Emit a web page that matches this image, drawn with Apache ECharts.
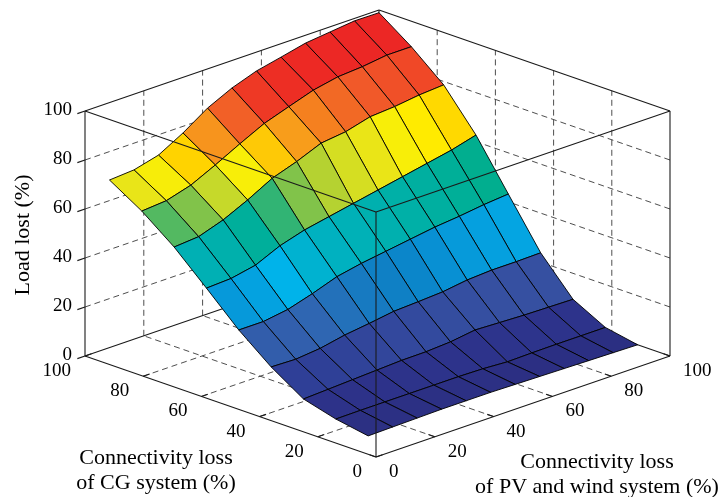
<!DOCTYPE html>
<html><head><meta charset="utf-8">
<script src="https://cdn.jsdelivr.net/npm/echarts@6/dist/echarts.min.js"></script>
<style>html,body{margin:0;padding:0;background:#fff}#chart{width:722px;height:497px}</style>
</head><body><div id="chart"></div>
<script>
// x: connectivity loss of PV and wind system (%)
const pvWindLoss = [8.33, 16.67, 25, 33.33, 41.67, 50, 58.33, 66.67, 75, 83.33, 91.67, 100];
// y: connectivity loss of CG system (%)
const cgLoss = [11.11, 22.22, 33.33, 44.44, 55.56, 66.67, 77.78, 88.89, 100];
// z: load lost (%), one row per CG loss level, across pvWindLoss
const loadLostCG11  = [0.6, 0.8, 1, 1.2, 1.2, 1.2, 1, 0.8, 0.6, 0.4, 0.2, 0];
const loadLostCG22  = [2.9, 3, 3, 3, 3, 3, 2.8, 2.2, 2.4, 2.5, 2.5, 2.5];
const loadLostCG33  = [6.5, 7, 7.5, 8, 8.5, 8.6, 9.2, 10.6, 10.2, 9.8, 9.6, 9.4];
const loadLostCG44  = [15, 14.7, 15.7, 17.7, 19, 20.5, 21, 21.6, 23, 23.6, 23.6, 23.8];
const loadLostCG56  = [25.5, 25.5, 27, 30, 33.5, 35.5, 37, 38.5, 40, 41, 42.3, 43.2];
const loadLostCG67  = [38, 38.5, 40.5, 45, 48, 50, 52, 54, 56, 58, 60, 62.7];
const loadLostCG78  = [50.2, 51, 54.4, 59.1, 64.5, 67.9, 72, 73.2, 75.9, 76.6, 77.9, 78.6];
const loadLostCG89  = [60.3, 61.1, 64, 68.8, 74, 78.9, 82.3, 85.6, 87.6, 88.3, 89.6, 89.6];
const loadLostCG100 = [68.4, 69.1, 71.7, 77.3, 84, 88.8, 92.3, 94.5, 96.8, 97.9, 99, 98.9];
// tick labels
const xTicks = [0, 20, 40, 60, 80, 100];
const yTicks = [0, 20, 40, 60, 80, 100];
const zTicks = [0, 20, 40, 60, 80, 100];

const loadLostRows = [loadLostCG11, loadLostCG22, loadLostCG33, loadLostCG44, loadLostCG56,
  loadLostCG67, loadLostCG78, loadLostCG89, loadLostCG100];

// orthographic projection of (x, y, z) onto the 2D helper axes
function project(p) { return [2.94 * p[0] - 2.91 * p[1], 1.01 * (p[0] + p[1]) + 2.45 * p[2]]; }

const colorStops = [
  [0, '#2b2e80'], [6, '#2d338b'], [11, '#2f3f97'], [17, '#3651a2'], [23, '#2f68b3'],
  [29, '#0c82c7'], [35, '#00b3ee'], [41, '#00b1c3'], [47, '#00b0a8'], [52, '#00ae90'],
  [55.5, '#4fb863'], [58.5, '#96c73f'], [62, '#cddb27'], [65, '#ece616'], [67.5, '#fff200'],
  [70.5, '#ffd200'], [73.5, '#fbb316'], [76, '#f7941d'], [79, '#f47920'], [82, '#f15a29'],
  [86, '#ee3524'], [90, '#ed2a24'], [100, '#eb2327']
];
function hexRgb(h) { return [1, 3, 5].map(k => parseInt(h.substr(k, 2), 16)); }
function colorFor(z) {
  if (z <= colorStops[0][0]) return colorStops[0][1];
  for (let k = 1; k < colorStops.length; k++) {
    if (z <= colorStops[k][0]) {
      const [z0, c0] = colorStops[k - 1], [z1, c1] = colorStops[k];
      const t = (z - z0) / (z1 - z0), a = hexRgb(c0), b = hexRgb(c1);
      return 'rgb(' + a.map((v, n) => Math.round(v + (b[n] - v) * t)).join(',') + ')';
    }
  }
  return colorStops[colorStops.length - 1][1];
}

// surface faces, far ones first
const faces = [];
for (let j = 0; j < cgLoss.length - 1; j++) {
  for (let i = 0; i < pvWindLoss.length - 1; i++) {
    const c = [[i, j], [i + 1, j], [i + 1, j + 1], [i, j + 1]]
      .map(([a, b]) => [pvWindLoss[a], cgLoss[b], loadLostRows[b][a]]);
    const mean = c.reduce((s, p) => s + p[2], 0) / 4;
    faces.push({ c: c, color: colorFor(mean), depth: i + j });
  }
}
faces.sort((a, b) => b.depth - a.depth);

// box and grid lines
const gridVals = [20, 40, 60, 80];
const backLines = [];
gridVals.forEach(t => {
  backLines.push({ a: [t, 0, 0], b: [t, 100, 0], dash: true });
  backLines.push({ a: [0, t, 0], b: [100, t, 0], dash: true });
  backLines.push({ a: [t, 100, 0], b: [t, 100, 100], dash: true });
  backLines.push({ a: [0, 100, t], b: [100, 100, t], dash: true });
  backLines.push({ a: [100, t, 0], b: [100, t, 100], dash: true });
  backLines.push({ a: [100, 0, t], b: [100, 100, t], dash: true });
});
[
  [[0, 100, 0], [100, 100, 0]], [[100, 0, 0], [100, 100, 0]], [[100, 100, 0], [100, 100, 100]],
  [[0, 100, 0], [0, 100, 100]], [[100, 0, 0], [100, 0, 100]],
  [[0, 100, 100], [100, 100, 100]], [[100, 0, 100], [100, 100, 100]]
].forEach(s => backLines.push({ a: s[0], b: s[1], dash: false }));
xTicks.forEach(t => backLines.push({ a: [t, 0, 0], b: [t, 2.2, 0], dash: false }));
yTicks.forEach(t => backLines.push({ a: [0, t, 0], b: [2.2, t, 0], dash: false }));
zTicks.forEach(t => backLines.push({ a: [0, 100, t], b: [-2.6, 100, t], dash: false }));

const frontLines = [
  [[0, 0, 0], [100, 0, 0]], [[0, 0, 0], [0, 100, 0]], [[0, 0, 0], [0, 0, 100]],
  [[0, 0, 100], [100, 0, 100]], [[0, 0, 100], [0, 100, 100]]
].map(s => ({ a: s[0], b: s[1], dash: false }));

const FONT = '"Liberation Serif", "Times New Roman", serif';
const labels = [];
xTicks.forEach(t => labels.push({ p: [t, 0, 0], dx: 13, dy: 15, text: String(t), align: 'left' }));
yTicks.forEach(t => labels.push({ p: [0, t, 0], dx: -14, dy: 15, text: String(t), align: 'right' }));
zTicks.forEach(t => labels.push({ p: [0, 100, t], dx: -13, dy: -1, text: String(t), align: 'right' }));

function lineSeries(list, z) {
  return {
    type: 'custom', coordinateSystem: 'cartesian2d', z: z, clip: false, silent: true,
    data: list.map(l => project(l.a)),
    renderItem: function (params, api) {
      const l = list[params.dataIndex];
      const p1 = api.coord(project(l.a)), p2 = api.coord(project(l.b));
      return {
        type: 'line',
        shape: { x1: p1[0], y1: p1[1], x2: p2[0], y2: p2[1] },
        style: { stroke: l.dash ? '#3a3a3a' : '#1a1a1a', lineWidth: l.dash ? 0.9 : 1.1, lineDash: l.dash ? [6, 4] : null }
      };
    }
  };
}

const option = {
  animation: false,
  backgroundColor: '#ffffff',
  grid: { left: 85, right: 52, top: 10, bottom: 40 },
  xAxis: { type: 'value', min: -291, max: 294, show: false },
  yAxis: { type: 'value', min: 0, max: 447, show: false },
  series: [
    lineSeries(backLines, 1),
    {
      type: 'custom', coordinateSystem: 'cartesian2d', z: 2, clip: false, silent: true,
      data: faces.map(f => project(f.c[0])),
      renderItem: function (params, api) {
        const f = faces[params.dataIndex];
        return {
          type: 'polygon',
          shape: { points: f.c.map(p => api.coord(project(p))) },
          style: { fill: f.color, stroke: '#000000', lineWidth: 0.9, lineJoin: 'round' }
        };
      }
    },
    lineSeries(frontLines, 3),
    {
      type: 'custom', coordinateSystem: 'cartesian2d', z: 4, clip: false, silent: true,
      data: labels.map(l => project(l.p)),
      renderItem: function (params, api) {
        const l = labels[params.dataIndex];
        const p = api.coord(project(l.p));
        return {
          type: 'text', x: p[0] + l.dx, y: p[1] + l.dy,
          style: { text: l.text, fill: '#000', font: '19px ' + FONT,
                   align: l.align, textAlign: l.align, verticalAlign: 'middle', textVerticalAlign: 'middle' }
        };
      }
    }
  ],
  graphic: [
    { type: 'text', x: 23, y: 235, rotation: Math.PI / 2,
      style: { text: 'Load lost (%)', fill: '#000', font: '22px ' + FONT,
               align: 'center', textAlign: 'center', verticalAlign: 'middle', textVerticalAlign: 'middle' } },
    { type: 'text', x: 597, y: 474.5,
      style: { text: 'Connectivity loss\nof PV and wind system (%)', fill: '#000', font: '22px ' + FONT, lineHeight: 25,
               align: 'center', textAlign: 'center', verticalAlign: 'middle', textVerticalAlign: 'middle' } },
    { type: 'text', x: 156, y: 470.5,
      style: { text: 'Connectivity loss\nof CG system (%)', fill: '#000', font: '22px ' + FONT, lineHeight: 25,
               align: 'center', textAlign: 'center', verticalAlign: 'middle', textVerticalAlign: 'middle' } }
  ]
};
const chart = echarts.init(document.getElementById('chart'));
chart.setOption(option);
</script>
</body></html>
